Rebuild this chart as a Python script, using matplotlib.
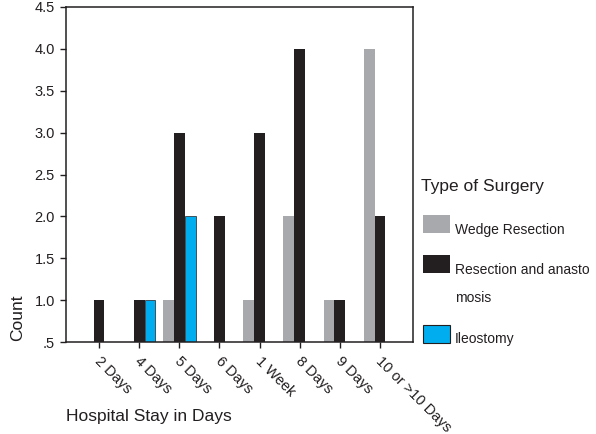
import numpy as np
import matplotlib
matplotlib.use("Agg")
import matplotlib.pyplot as plt
import matplotlib.transforms as mtransforms
from matplotlib.patches import Rectangle

plt.rcParams['font.family'] = ['Liberation Sans', 'DejaVu Sans']

# data (None = no bar)
stays = ['2 Days', '4 Days', '5 Days', '6 Days', '1 Week', '8 Days', '9 Days', '10 or >10 Days']
wedge = [None, None, 1, None, 1, 2, 1, 4]
resection = [1, 1, 3, 2, 3, 4, 1, 2]
ileostomy = [None, 1, 2, None, None, None, None, None]

series_names = ['Wedge Resection', 'Resection and anasto\nmosis', 'Ileostomy']
colors = ['#a7a9ac', '#231f20', '#00aeef']
y_ticks = [0.5, 1.0, 1.5, 2.0, 2.5, 3.0, 3.5, 4.0, 4.5]
y_ticklabels = ['.5', '1.0', '1.5', '2.0', '2.5', '3.0', '3.5', '4.0', '4.5']

fig = plt.figure(figsize=(5.96, 4.34), dpi=100)
ax = fig.add_axes([66/596, 1 - 342/434, 347/596, 335/434])

x = np.arange(len(stays))
w = 0.27
for k, vals in enumerate([wedge, resection, ileostomy]):
    xs = [x[i] + (k - 1) * w for i, v in enumerate(vals) if v is not None]
    hs = [v for v in vals if v is not None]
    ec = '#231f20' if k == 2 else 'none'
    ax.bar(xs, hs, width=w, color=colors[k], edgecolor=ec, linewidth=0.5)

ax.set_xlim(-0.82, len(stays) - 1 + 0.82)
ax.set_ylim(0.5, 4.5)
ax.set_yticks(y_ticks)
ax.set_yticklabels(y_ticklabels)
ax.set_xticks(x)
ax.set_xticklabels(stays, rotation=-45, ha='left', va='top', rotation_mode='anchor')
ax.tick_params(axis='both', direction='out', length=4, width=1, colors='#231f20',
               labelsize=10.5, pad=4)
ax.tick_params(axis='x', pad=5)
shift = mtransforms.ScaledTranslation(3/100, 0, fig.dpi_scale_trans)
for lab in ax.get_xticklabels():
    lab.set_transform(lab.get_transform() + shift)
for s in ax.spines.values():
    s.set_linewidth(1.1)
    s.set_color('#231f20')

ax.set_ylabel('Count', fontsize=12.5, color='#231f20')
ax.yaxis.set_label_coords(-0.118, 0.072)
ax.set_xlabel('Hospital Stay in Days', fontsize=12.5, color='#231f20', loc='left')
ax.xaxis.set_label_coords(0.0, -0.2)

# legend drawn at the reference's spacing
fig.text(421/596, 1 - 187/434, 'Type of Surgery', fontsize=12.5, va='center',
         color='#231f20')
leg_rows = [(215, 234), (255, 274), (325, 343)]
for k, (top, base) in enumerate(leg_rows):
    ec = '#231f20' if k == 2 else 'none'
    fig.add_artist(Rectangle((423/596, 1 - (top + 18)/434), 27/596, 18/434,
                             transform=fig.transFigure, facecolor=colors[k],
                             edgecolor=ec, linewidth=0.8))
    lines = series_names[k].split('\n')
    for j, line in enumerate(lines):
        fig.text(455/596, 1 - (base + 28 * j)/434, line, fontsize=10,
                 va='baseline', color='#231f20')

fig.savefig('out.png', dpi=100)
